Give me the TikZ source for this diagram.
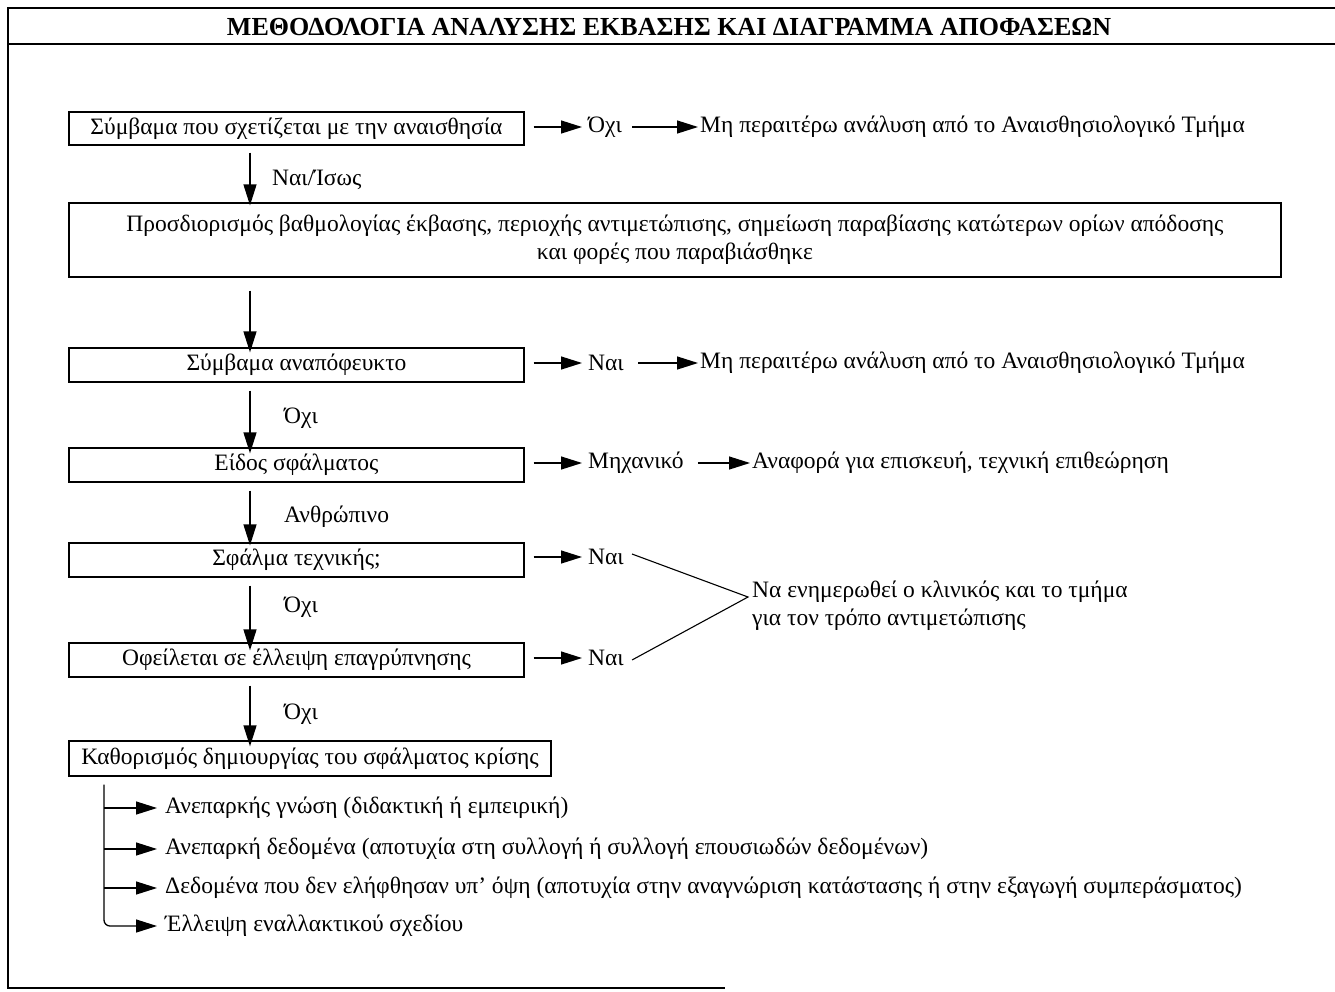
\documentclass[tikz,border=0pt]{standalone}
\usepackage{fontspec}
\setmainfont{Liberation Serif}
\usetikzlibrary{arrows.meta,calc}
\begin{document}
\begin{tikzpicture}[x=1pt,y=-1pt,
  box/.style={draw, line width=1.3pt, inner sep=0pt, font=\fontsize{23.5}{28}\selectfont},
  lbl/.style={inner sep=2pt, font=\fontsize{23.5}{28}\selectfont},
  arr/.style={line width=1.3pt, -{Triangle[length=21pt,width=13pt]}},
  ln/.style={line width=1.1pt}]
\useasboundingbox (0,0) rectangle (1335,991);
% frame
\draw[line width=1.5pt] (1335,8) -- (8,8) -- (8,988) -- (725,988);
\draw[line width=1.5pt] (8,44) -- (1335,44);
\node[inner sep=0pt] (title) at (669,27) {\fontsize{26}{30}\selectfont\bfseries ΜΕΘΟΔΟΛΟΓΙΑ ΑΝΑΛΥΣΗΣ ΕΚΒΑΣΗΣ ΚΑΙ ΔΙΑΓΡΑΜΜΑ ΑΠΟΦΑΣΕΩΝ};
\coordinate (ax) at (250,0);
\coordinate (br) at (104,0);
% boxes
\node[box, minimum width=455, minimum height=33] (b1) at (296.5,128.5) {Σύμβαμα που σχετίζεται με την αναισθησία};
\node[box, minimum width=1212, minimum height=74, align=center] (b2) at (675,240) {Προσδιορισμός βαθμολογίας έκβασης, περιοχής αντιμετώπισης, σημείωση παραβίασης κατώτερων ορίων απόδοσης\\ και φορές που παραβιάσθηκε};
\node[box, minimum width=455, minimum height=34] (b3) at (296.5,365) {Σύμβαμα αναπόφευκτο};
\node[box, minimum width=455, minimum height=34] (b4) at (296.5,465) {Είδος σφάλματος};
\node[box, minimum width=455, minimum height=34] (b5) at (296.5,560) {Σφάλμα τεχνικής;};
\node[box, minimum width=455, minimum height=34] (b6) at (296.5,660) {Οφείλεται σε έλλειψη επαγρύπνησης};
\node[box, minimum width=482, minimum height=35] (b7) at (310,758.5) {Καθορισμός δημιουργίας του σφάλματος κρίσης};
% right side labels
\node[lbl, anchor=west] (o1) at (586,127) {Όχι};
\node[lbl, anchor=west] (r1) at (698,127) {Μη περαιτέρω ανάλυση από το Αναισθησιολογικό Τμήμα};
\node[lbl, anchor=west] (n3) at (586,363) {Ναι};
\node[lbl, anchor=west] (r3) at (698,363) {Μη περαιτέρω ανάλυση από το Αναισθησιολογικό Τμήμα};
\node[lbl, anchor=west] (m4) at (586,463) {Μηχανικό};
\node[lbl, anchor=west] (r4) at (750,463) {Αναφορά για επισκευή, τεχνική επιθεώρηση};
\node[lbl, anchor=west] (n5) at (586,557) {Ναι};
\node[lbl, anchor=west] (n6) at (586,658) {Ναι};
\coordinate (mg) at (748,597);
\node[lbl, anchor=west, align=left, inner sep=0pt] (inf) at (752,606) {Να ενημερωθεί ο κλινικός και το τμήμα\\για τον τρόπο αντιμετώπισης};
% down labels
\node[lbl, anchor=west] (l1) at (270,180) {Ναι/Ίσως};
\node[lbl, anchor=west] (l3) at (282,418) {Όχι};
\node[lbl, anchor=west] (l4) at (282,517) {Ανθρώπινο};
\node[lbl, anchor=west] (l5) at (282,607) {Όχι};
\node[lbl, anchor=west] (l6) at (282,714) {Όχι};
% bottom items
\node[lbl, anchor=west] (i1) at (163,808) {Ανεπαρκής γνώση (διδακτική ή εμπειρική)};
\node[lbl, anchor=west] (i2) at (163,849) {Ανεπαρκή δεδομένα (αποτυχία στη συλλογή ή συλλογή επουσιωδών δεδομένων)};
\node[lbl, anchor=west] (i3) at (163,888) {Δεδομένα που δεν ελήφθησαν υπ’ όψη (αποτυχία στην αναγνώριση κατάστασης ή στην εξαγωγή συμπεράσματος)};
\node[lbl, anchor=west] (i4) at (163,926) {Έλλειψη εναλλακτικού σχεδίου};
% horizontal arrows
\draw[arr] ([xshift=9]b1.east |- o1) -- ([xshift=-4]o1.west);
\draw[arr] (o1.east) ++(8,0) -- (r1.west);
\draw[arr] ([xshift=9]b3.east |- n3) -- ([xshift=-4]n3.west);
\draw[arr] (n3.east) ++(12,0) -- (r3.west);
\draw[arr] ([xshift=9]b4.east |- m4) -- ([xshift=-4]m4.west);
\draw[arr] (m4.east) ++(12,0) -- (r4.west);
\draw[arr] ([xshift=9]b5.east |- n5) -- ([xshift=-4]n5.west);
\draw[arr] ([xshift=9]b6.east |- n6) -- ([xshift=-4]n6.west);
\draw[ln] ([xshift=6,yshift=3]n5.east) -- (mg) -- ([xshift=6,yshift=-2]n6.east);
% down arrows
\draw[arr] ([yshift=-7]b1.south -| ax) -- ([yshift=-3]b2.north -| ax);
\draw[arr] ([yshift=-13]b2.south -| ax) -- ([yshift=-5]b3.north -| ax);
\draw[arr] ([yshift=-8]b3.south -| ax) -- ([yshift=-6]b4.north -| ax);
\draw[arr] ([yshift=-8]b4.south -| ax) -- ([yshift=-3]b5.north -| ax);
\draw[arr] ([yshift=-8]b5.south -| ax) -- ([yshift=-8]b6.north -| ax);
\draw[arr] ([yshift=-8]b6.south -| ax) -- ([yshift=-6]b7.north -| ax);
% bracket
\draw[arr, rounded corners=6] ([yshift=-8]b7.south -| br) |- ([xshift=-6]i4.west);
\draw[arr] (br |- i1) -- ([xshift=-6]i1.west);
\draw[arr] (br |- i2) -- ([xshift=-6]i2.west);
\draw[arr] (br |- i3) -- ([xshift=-6]i3.west);
\end{tikzpicture}
\end{document}
